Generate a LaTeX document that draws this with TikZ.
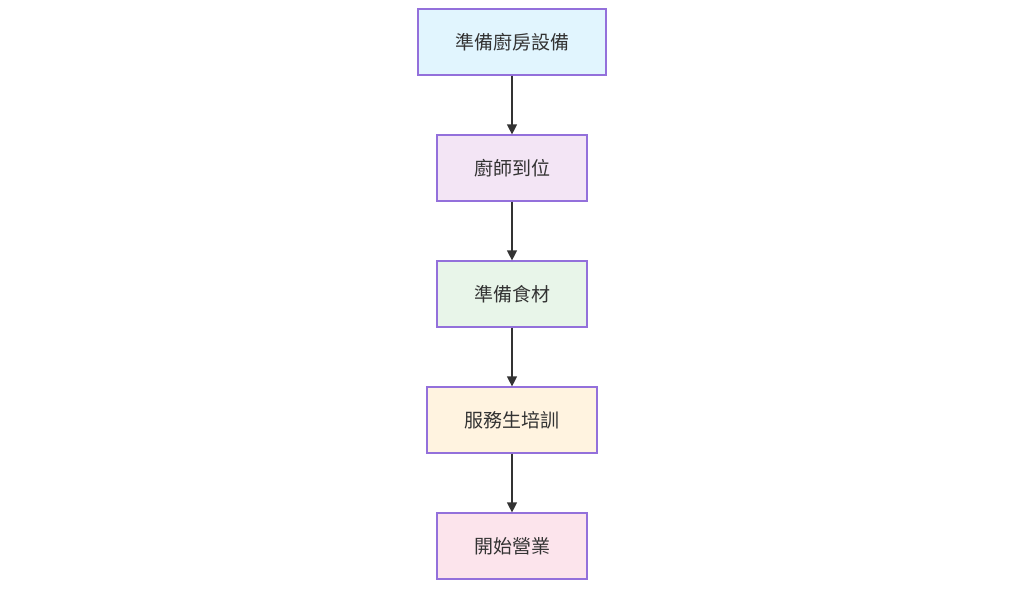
\documentclass[tikz,border=0pt]{standalone}
\usepackage{fontspec}
\newfontfamily\cjk{Noto Sans CJK TC}
\usetikzlibrary{arrows.meta}
\definecolor{edgepurple}{HTML}{9370DB}
\definecolor{linegray}{HTML}{333333}
\definecolor{fillblue}{HTML}{E1F5FE}
\definecolor{fillpurple}{HTML}{F3E5F5}
\definecolor{fillgreen}{HTML}{E8F5E9}
\definecolor{fillorange}{HTML}{FFF3E0}
\definecolor{fillpink}{HTML}{FCE4EC}
\begin{document}
\begin{tikzpicture}
 [x=1pt,y=-1pt,every node/.style={rectangle,draw=edgepurple,line width=1.2pt,font=\cjk\fontsize{19}{19}\selectfont,text=linegray,minimum height=66pt,inner xsep=37pt},
  flow/.style={draw=linegray,line width=1.2pt,-{Triangle[length=10pt,width=10pt]}}]
  \useasboundingbox (0,0) rectangle (1024,589);
  \node[fill=fillblue] (setup) at (512,42) {準備廚房設備};
  \node[fill=fillpurple] (chef) at (512,168) {廚師到位};
  \node[fill=fillgreen] (food) at (512,294) {準備食材};
  \node[fill=fillorange,minimum width=170pt] (staff) at (512,420) {服務生培訓};
  \node[fill=fillpink] (open) at (512,546) {開始營業};

  \foreach \from/\to in {setup/chef,chef/food,food/staff,staff/open}
    \draw[flow] (\from) -- (\to);
\end{tikzpicture}
\end{document}
